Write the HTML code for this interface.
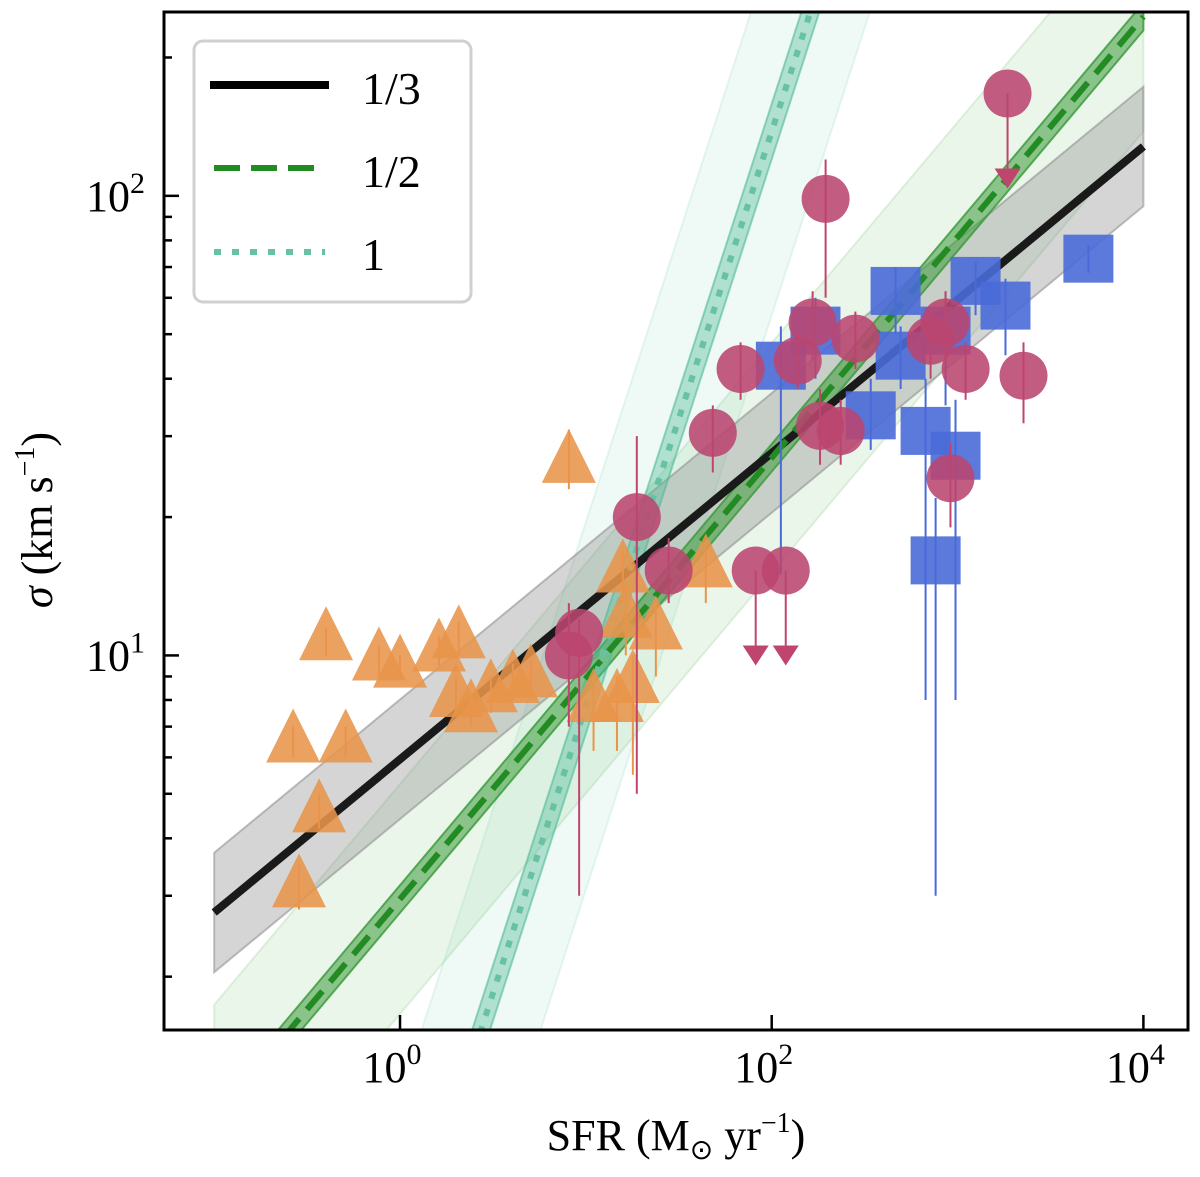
<!DOCTYPE html>
<html><head><meta charset="utf-8"><style>
html,body{margin:0;background:#fff;width:1200px;height:1177px;overflow:hidden}
svg{font-family:"Liberation Serif",serif;display:block}
</style></head><body>
<svg id="chart" width="1200" height="1177" xmlns="http://www.w3.org/2000/svg">
<defs><clipPath id="clip"><rect x="164" y="12" width="1024" height="1018"/></clipPath></defs>
<g id="bands" clip-path="url(#clip)"></g>
<g id="points" clip-path="url(#clip)"></g>
<rect x="164" y="12" width="1024" height="1018" fill="none" stroke="#000" stroke-width="3"/>
<g id="ticks"></g>
<text x="676" y="1150" font-size="44" text-anchor="middle">SFR (M<tspan font-size="28" dy="9">⊙</tspan><tspan dy="-9"> yr</tspan><tspan font-size="28" dy="-18">−1</tspan><tspan dy="18">)</tspan></text>
<text transform="translate(52,520) rotate(-90)" font-size="44" text-anchor="middle"><tspan font-style="italic">σ</tspan> (km s<tspan font-size="28" dy="-18">−1</tspan><tspan dy="18">)</tspan></text>
<g>
<rect x="194" y="41" width="277" height="261" rx="9" fill="#fff" fill-opacity="0.85" stroke="#d0d0d0" stroke-width="3"/>
<line x1="210" y1="85" x2="329" y2="85" stroke="#000" stroke-width="8"/>
<text x="362" y="104" font-size="46">1/3</text>
<line x1="214" y1="168" x2="325" y2="168" stroke="#228b22" stroke-width="6" stroke-dasharray="26,11"/>
<text x="362" y="187" font-size="46">1/2</text>
<line x1="214" y1="252" x2="325" y2="252" stroke="#66c2a0" stroke-width="6" stroke-dasharray="7,11"/>
<text x="362" y="270" font-size="46">1</text>
</g>
</svg>
<script>
const NS="http://www.w3.org/2000/svg";
const xDomain=[-1.27,4.24];
const yDomain=[0.185,2.40];
const xTickExps=[0,2,4];
const yTickExps=[1,2];
// fits: [slope, intercept, narrowHalfWidth(dex), wideHalfWidth(dex), xStart, xEnd]
const fitOneThird=[1/3,0.774,0.02,0.13,-1,4];
const fitOneHalf=[0.48,0.47,0.03,0.25,-1,4];
const fitOne=[1.25,-0.36,0.06,0.4,-1,4];
const triSFR=[0.266,0.40,0.51,0.77,1.0,2.07,1.62,2.41,3.08,0.367,0.286,4.05,5.06,8.1,15.8,16.4,23.8,11.0,14.7,17.9,44.2,2.0];
const triSig=[6.53,10.9,6.53,9.85,9.5,11.0,10.3,7.6,8.4,4.6,3.16,8.8,9.05,26.5,15.3,12.2,11.5,8.0,8.0,8.8,15.7,8.2];
const triErrLo=[6,10,6,9,9,10,9.5,7,7.5,4.2,2.8,8,8,23,13,10,9,6.2,6.2,5.5,13,7.5];
const triErrHi=[7,11.5,7,10.5,10,11.8,11,8.2,9,5,3.5,9.6,9.8,31,17,14,13,9,9,10,17,9];
const cirSFR=[1858,195,18.8,48.2,68,138,166,282,182,235,27.9,8.1,9.2,82,119,716,862,1105,2264,916];
const cirSig=[167,98.5,20,30.5,42,43.8,53,48.9,31.6,30.8,15.3,10,11.2,15.3,15.3,48.4,53,42,40.6,24.3];
const cirErrLo=[150,60,5,25,36,38,44,42,26,26,13,7,3,15,15,40,44,36,32,19];
const cirErrHi=[185,120,30,35,48,50,62,56,38,36,18,13,12,15,15,56,62,48,48,29];
const cirUpper=[1,0,0,0,0,0,0,0,0,0,0,0,0,1,1,0,0,0,0,0];
const sqSFR=[5058,1250,1811,464,862,494,112,341,673,975,762,172];
const sqSig=[73,65.3,57.7,62.1,50.9,44.9,42.7,33.3,30.8,27.2,16.1,50.9];
const sqErrLo=[68,55,45,50,35,38,15,28,8,8,3,40];
const sqErrHi=[78,72,66,70,62,52,52,40,40,36,22,60];

const X0=164,X1=1188,Y0=12,Y1=1030;
const xs=v=>X0+(Math.log10(v)-xDomain[0])/(xDomain[1]-xDomain[0])*(X1-X0);
const xl=l=>X0+(l-xDomain[0])/(xDomain[1]-xDomain[0])*(X1-X0);
const yl=l=>Y1-(l-yDomain[0])/(yDomain[1]-yDomain[0])*(Y1-Y0);
const ys=v=>yl(Math.log10(v));
function mk(tag,attrs,parent){const e=document.createElementNS(NS,tag);for(const k in attrs)e.setAttribute(k,attrs[k]);parent.appendChild(e);return e;}

const bands=document.getElementById('bands');
function band(f,hw,fill,op,name){
  const [s,b,,,a,z]=f;
  const pts=[[a,s*a+b+hw],[z,s*z+b+hw],[z,s*z+b-hw],[a,s*a+b-hw]].map(p=>xl(p[0])+','+yl(p[1])).join(' ');
  const p=mk('polygon',{points:pts,fill:fill,'fill-opacity':op,stroke:fill,'stroke-opacity':op*1.5,'stroke-width':2},bands);
  
  
}
function fitLine(f,col,w,dash,name){
  const [s,b,,,a,z]=f;
  const l=mk('line',{x1:xl(a),y1:yl(s*a+b),x2:xl(z),y2:yl(s*z+b),stroke:col,'stroke-width':w},bands);
  if(dash)l.setAttribute('stroke-dasharray',dash);
  
  
}
band(fitOneHalf,fitOneHalf[3],'#7cc27c',0.15,'band-one-half-wide');
band(fitOne,fitOne[3],'#7cd0b0',0.12,'band-one-wide');
band(fitOneThird,fitOneThird[3],'#888',0.35,'band-one-third');
band(fitOneHalf,fitOneHalf[2],'#3a9a3a',0.55,'band-one-half');
band(fitOne,fitOne[2],'#50bb98',0.4,'band-one');
fitLine(fitOneThird,'#1a1a1a',8,null,'fit-line-one-third');
fitLine(fitOneHalf,'#228b22',6,'24,12','fit-line-one-half');
fitLine(fitOne,'#66c2a0',6,'7,11','fit-line-one');

const pg=document.getElementById('points');
function err(x,lo,hi,col){const l=mk('line',{x1:x,y1:ys(lo),x2:x,y2:ys(hi),stroke:col,'stroke-width':2},pg);}
triSFR.forEach((v,i)=>{const x=xs(v),y=ys(triSig[i]);err(x,triErrLo[i],triErrHi[i],'#e8944a');
  const t=mk('polygon',{points:`${x},${y-32} ${x-27},${y+22} ${x+27},${y+22}`,fill:'#e8944a','fill-opacity':0.88},pg);
  });
sqSFR.forEach((v,i)=>{const x=xs(v),y=ys(sqSig[i]);err(x,sqErrLo[i],sqErrHi[i],'#4a6ad8');
  const r=mk('rect',{x:x-25,y:y-24,width:50,height:48,fill:'#4a6ad8','fill-opacity':0.9},pg);
  });
cirSFR.forEach((v,i)=>{const x=xs(v),y=ys(cirSig[i]);
  if(cirUpper[i]){const ay=y+75;const l=mk('line',{x1:x,y1:y,x2:x,y2:ay,stroke:'#c0456e','stroke-width':2},pg);
    
    const a=mk('polygon',{points:`${x-13},${ay} ${x+13},${ay} ${x},${ay+20}`,fill:'#c0456e'},pg);
    }
  else err(x,cirErrLo[i],cirErrHi[i],'#c0456e');
  const c=mk('circle',{cx:x,cy:y,r:24,fill:'#bb4670','fill-opacity':0.88},pg);
  });

const tg=document.getElementById('ticks');
function tick(x1,y1,x2,y2){const l=mk('line',{x1,y1,x2,y2,stroke:'#000','stroke-width':2.5},tg);}
xTickExps.forEach(e=>{const x=xl(e);tick(x,Y1,x,Y1-15);});
for(let e=0;e<=2;e++)for(let m=1;m<10;m++){const l=e+Math.log10(m);if(l<yDomain[0]||l>yDomain[1])continue;const y=yl(l),L=m==1?15:8;tick(X0,y,X0+L,y);}
xTickExps.forEach(e=>{const t=mk('text',{x:xl(e)-8,y:1082,'font-size':44,'text-anchor':'middle'},tg);t.innerHTML=`10<tspan font-size="30" dy="-18">${e}</tspan>`;});
yTickExps.forEach(e=>{const t=mk('text',{x:145,y:yl(e)+15,'font-size':44,'text-anchor':'end'},tg);t.innerHTML=`10<tspan font-size="30" dy="-18">${e}</tspan>`;});
</script>
</body></html>
